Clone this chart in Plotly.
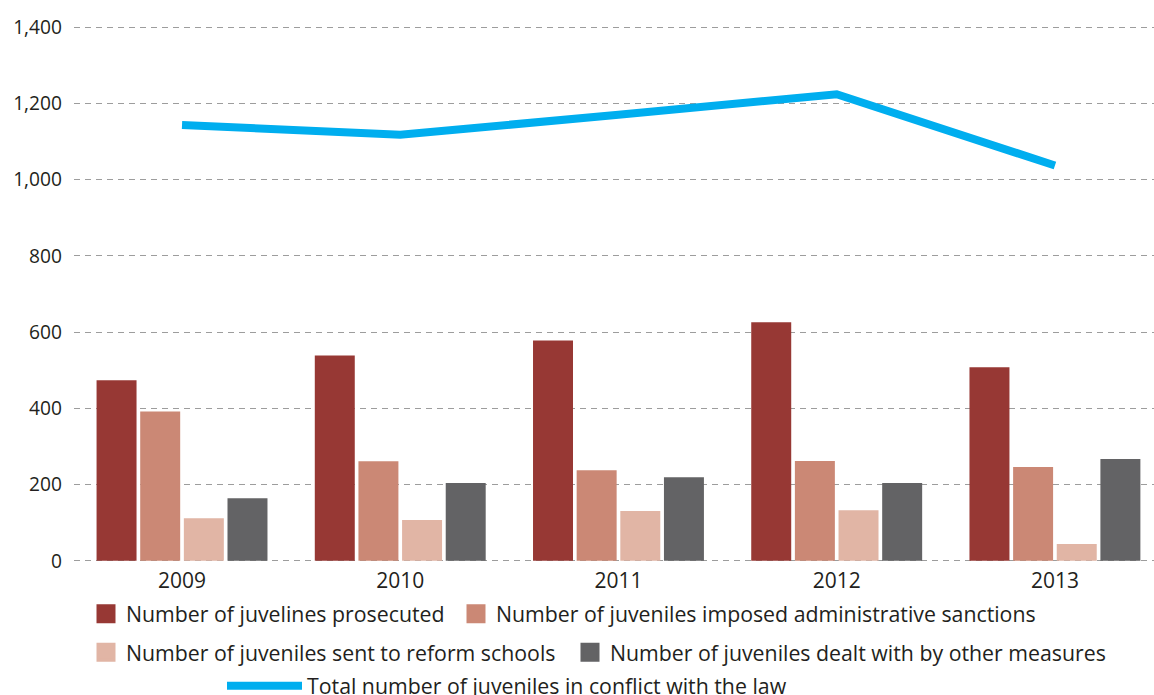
import plotly.graph_objects as go

# data
years = ["2009", "2010", "2011", "2012", "2013"]
prosecuted = [474, 539, 578, 626, 508]
admin_sanctions = [392, 261, 238, 262, 246]
reform_schools = [112, 107, 131, 133, 44]
other_measures = [164, 204, 219, 204, 267]
total_juveniles = [1143, 1118, 1170, 1224, 1037]

bar_series = [
    ("Number of juvelines prosecuted", prosecuted, "#973834", "legend"),
    ("Number of juveniles imposed administrative sanctions", admin_sanctions, "#cb8875", "legend2"),
    ("Number of juveniles sent to reform schools", reform_schools, "#e1b5a5", "legend3"),
    ("Number of juveniles dealt with by other measures", other_measures, "#636365", "legend4"),
]

FONT = "Open Sans"
TXT = "#231f20"

fig = go.Figure()

for name, vals, col, leg in bar_series:
    fig.add_trace(go.Bar(x=years, y=vals, name=name, marker=dict(color=col, line_width=0),
                         showlegend=False))

for name, vals, col, leg in bar_series:
    # bigger square legend swatches
    fig.add_trace(go.Scatter(x=[None], y=[None], mode="markers", name=name, legend=leg,
                             marker=dict(symbol="square", size=16, color=col,
                                         line=dict(color=col, width=3))))

fig.add_trace(go.Scatter(x=years, y=total_juveniles, mode="lines",
                         name="Total number of juveniles in conflict with the law",
                         line=dict(color="#00aeef", width=8), legend="legend5"))

legend_common = dict(orientation="h", xref="container", yref="container",
                     xanchor="left", yanchor="top", bgcolor="rgba(0,0,0,0)",
                     font=dict(family=FONT, size=21.3, color=TXT))

fig.update_layout(
    width=1154, height=695,
    margin=dict(l=74, r=0, t=25.9, b=132.9, autoexpand=False),
    paper_bgcolor="white", plot_bgcolor="white",
    barmode="group", bargap=0.2, bargroupgap=0.084,
    font=dict(family=FONT, color=TXT),
    xaxis=dict(type="category", range=[-0.495, 4.454], showgrid=False, showline=False,
               automargin=False, ticks="", tickfont=dict(size=21, color=TXT),
               ticklabelstandoff=4),
    yaxis=dict(range=[-3, 1403], tickvals=[0, 200, 400, 600, 800, 1000, 1200, 1400],
               tickformat=",", showgrid=True, automargin=False,
               gridcolor="#9d9d9d", gridwidth=1.2, griddash="6px,5px", zeroline=False,
               showline=False, ticks="", tickfont=dict(size=19.2, color=TXT),
               ticklabelstandoff=11),
    legend=dict(x=86 / 1154, y=1 - 593.5 / 695, **legend_common),
    legend2=dict(x=456 / 1154, y=1 - 593.5 / 695, **legend_common),
    legend3=dict(x=86 / 1154, y=1 - 632 / 695, **legend_common),
    legend4=dict(x=570 / 1154, y=1 - 632 / 695, **legend_common),
    legend5=dict(x=222 / 1154, y=1 - 665.5 / 695, itemwidth=75, **legend_common),
)

# page has a default 8px body margin; drop it so the figure fills the window
fig.write_html("out.html", config={"displayModeBar": False},
               post_script="document.body.style.margin='0';")
